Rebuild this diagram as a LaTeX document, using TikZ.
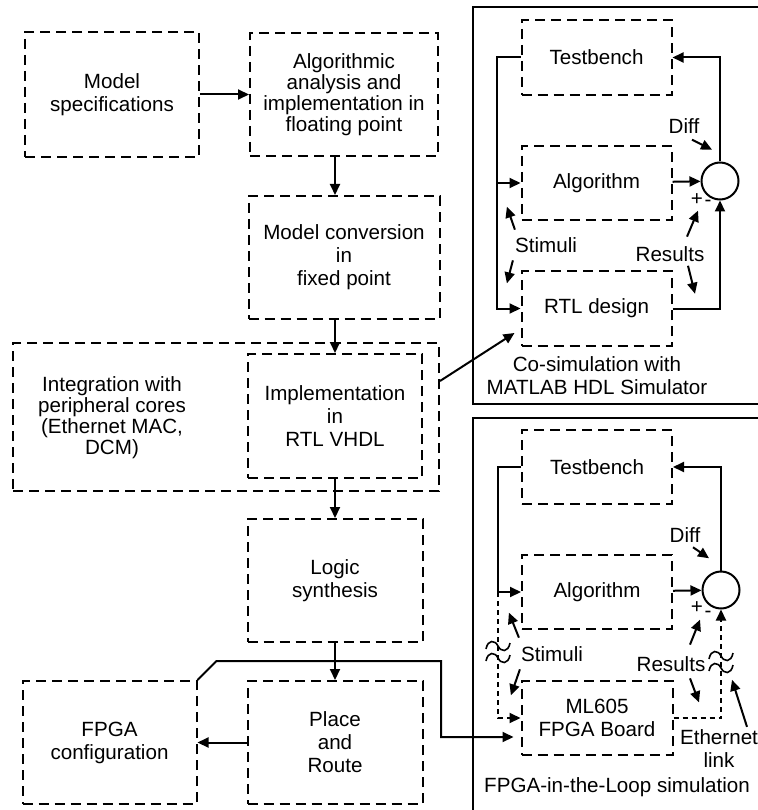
\documentclass[tikz,border=0pt]{standalone}
\usepackage{fontspec}
\setmainfont{Liberation Sans}
\usetikzlibrary{arrows.meta,positioning,calc}

\begin{document}
\begin{tikzpicture}[x=1pt,y=-1pt,
  box/.style={draw,rectangle,dash pattern=on 10pt off 6pt,line width=2pt,
    minimum width=174pt,minimum height=123pt,align=center,inner sep=0pt},
  sbox/.style={box,minimum width=150pt,minimum height=74pt},
  arr/.style={-{Triangle[length=11pt,width=10pt]},line width=2pt},
  darr/.style={arr,dash pattern=on 5pt off 4pt},
  sum/.style={draw,circle,line width=2pt,minimum size=37pt,inner sep=0pt},
  lbl/.style={inner sep=0pt,align=center},
  panel/.style={draw,line width=2.3pt},
  tight/.style={font=\fontsize{20.6}{21}\selectfont},
  font=\fontsize{20.6}{23}\selectfont
]
\useasboundingbox (0,0) rectangle (757,810);
% design flow
\node[box,minimum height=125pt](spec) at (112,94.5){Model\\specifications};
\node[box,tight,minimum width=188pt,right=49pt of spec](alg){Algorithmic\\analysis and\\implementation in\\floating point};
\node[box,minimum width=191pt,below=38pt of alg](conv){Model conversion\\in\\fixed point};
\node[box,minimum width=426pt,minimum height=148pt](integ) at (226,417){};
\node[lbl,tight](integtxt) at (112,418){Integration with\\peripheral cores\\(Ethernet MAC,\\DCM)};
\node[box,minimum height=124pt](impl) at (335,416){Implementation\\in\\RTL VHDL};
\node[box,minimum width=175pt,below=39pt of impl](synth){Logic\\synthesis};
\node[box,minimum width=175pt,below=37pt of synth](pnr){Place\\and\\Route};
\node[box,left=49pt of pnr](cfg){FPGA\\configuration};
\draw[arr](spec)--(alg);\draw[arr](alg.south -| impl)--(conv.north -| impl);
\draw[arr](conv.south -| impl)--(impl.north);\draw[arr](impl)--(synth);
\draw[arr](synth)--(pnr);\draw[arr](pnr)--(cfg);

% co-simulation panel
\draw[panel](800,7)--(473,7)--(473,404)--(800,404);
\node[sbox,minimum height=75pt](tbA) at (596.5,57.5){Testbench};
\node[sbox,below=49pt of tbA](algA){Algorithm};
\node[sbox,minimum height=75pt,below=49pt of algA](rtl){RTL design};
\node[sum](sumA) at (720,181){};
\coordinate(busA) at (497,0);
\draw[arr](tbA.west) -| (busA |- rtl.west)--(rtl.west);
\draw[arr](busA |- algA.west)--(algA.west);
\draw[arr](algA)--(sumA);\draw[arr](rtl.east) -| (sumA.south);
\draw[arr](sumA.north) |- (tbA.east);
\node[lbl](diffA) at (684,126){Diff};
\draw[arr]([shift={(8,6)}]diffA.south)--++(20,10);
\node[lbl](plusA) at (697,200){+};\node[lbl](minusA) at (708,203){-};
\node[lbl](stimA) at (546,245){Stimuli};
\draw[arr]([shift={(0,-7.6)}]stimA.north west)--++(-8,-23);
\draw[arr]([shift={(-2,7.6)}]stimA.south west)--++(-6,23);
\node[lbl](resA) at (670,254){Results};
\draw[arr]([shift={(17,-9.6)}]resA.north)--++(11,-26);
\draw[arr]([shift={(18,4)}]resA.south)--++(7,28);
\node[lbl](capA) at (597,376){Co-simulation with\\MATLAB HDL Simulator};
\draw[arr]($(integ.north east)!0.26!(integ.south east)$)--($(rtl.south west)+(-6,-14)$);

% FPGA-in-the-loop panel
\draw[panel](800,418)--(473,418)--(473,830);
\node[sbox](tbB) at (597,467){Testbench};
\node[sbox,below=49pt of tbB](algB){Algorithm};
\node[sbox,minimum width=151pt,below=50pt of algB](brd){ML605\\FPGA Board};
\node[sum](sumB) at (721,590){};
\coordinate(busB) at (498,0);
\draw[arr](tbB.west) -| (busB |- algB.west)--(algB.west);
\draw[darr](busB |- algB.west)--(busB |- brd.west)--(brd.west);
\draw[arr](algB)--(sumB);\draw[darr](brd.east) -| (sumB.south);
\draw[arr](sumB.north) |- (tbB.east);
\foreach \bx/\by in {498/652,721/662}{
  \foreach \dy in {-6,6}
    \draw[line width=1.6pt,shift={(\bx,\by+\dy)}](-12,3) .. controls (-10,-7) and (-3,-6) .. (0,0) .. controls (3,6) and (10,7) .. (12,-3);
}
\node[lbl](diffB) at (685,535){Diff};
\draw[arr]([shift={(8,4.6)}]diffB.south)--++(16,11);
\node[lbl](plusB) at (697,608){+};\node[lbl](minusB) at (708,614){-};
\node[lbl](stimB) at (552,654){Stimuli};
\draw[arr]([shift={(-2,-8.6)}]stimB.north west)--++(-10,-25);
\draw[arr]([shift={(-1,7.6)}]stimB.south west)--++(-9,26);
\node[lbl](resB) at (671,664){Results};
\draw[arr]([shift={(19,-11.6)}]resB.north)--++(10,-25);
\draw[arr]([shift={(19,6.6)}]resB.south)--++(9,24);
\node[lbl](eth) at (719,749){Ethernet\\link};
\draw[arr]([shift={(28,-3)}]eth.north)--++(-15,-47);
\node[lbl](capB) at (617,787){FPGA-in-the-Loop simulation};
\coordinate(jog) at (441,737);
\draw[arr,shorten >=7pt](cfg.north east)--++(19,-19) -| (jog)--(jog -| brd.west);
\end{tikzpicture}
\end{document}
